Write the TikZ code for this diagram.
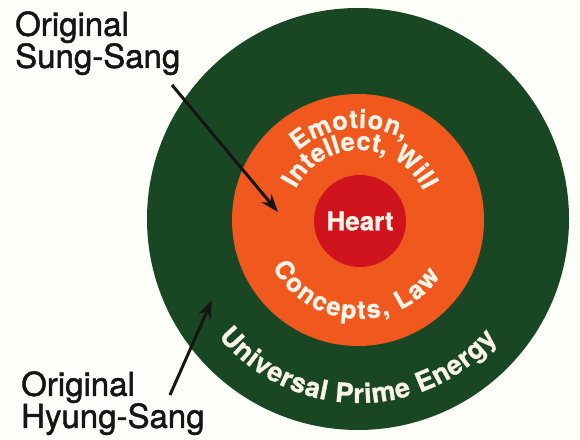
\documentclass[tikz,border=0pt]{standalone}
\usepackage{fontspec}
\setmainfont{TeX Gyre Heros}
\newfontfamily\labelfamily[FakeBold=1.4]{TeX Gyre Heros}
\newfontfamily\heavyfamily[FakeBold=1.0]{TeX Gyre Heros}
\usetikzlibrary{decorations.text,arrows.meta}
\definecolor{ringgreen}{HTML}{1A4723}
\definecolor{ringorange}{HTML}{F0581D}
\definecolor{corered}{HTML}{D0141E}
\definecolor{cream}{HTML}{FAF3E8}
\definecolor{paper}{HTML}{FDFDF9}
\definecolor{ink}{HTML}{151515}
\newcommand\ringfont{\color{cream}\heavyfamily\bfseries\fontsize{25.5}{25.5}\selectfont}
\newcommand\outerfont{\color{cream}\heavyfamily\bfseries\fontsize{27}{27}\selectfont}
\begin{document}
\begin{tikzpicture}[x=1pt,y=1pt,
  disc/.style={circle, inner sep=0pt, draw=none},
  sidelabel/.style={anchor=north west, inner sep=0pt, align=left, text=ink,
    font=\labelfamily\fontsize{33}{32}\selectfont},
  pointer/.style={draw=ink, line width=3pt, -{Stealth[length=18pt,width=13pt]}}]
\fill[paper] (0,0) rectangle (580,439);
\useasboundingbox (0,0) rectangle (580,439);
% rings
\node[disc, fill=ringgreen, minimum size=422pt] (outer) at (358,220) {};
\node[disc, fill=ringorange, minimum size=252pt] (middle) at (358,219) {};
\node[disc, fill=corered, minimum size=92pt, text=cream,
  font=\heavyfamily\bfseries\fontsize{26}{26}\selectfont] (core) at (360,218) {Heart};
\coordinate (cen) at (359,218);
% curved texts
\path[decorate, decoration={text along path, text align={fit to path},
  text={|\ringfont|Emotion,}}]
  (cen) ++(131:93) arc[start angle=131, end angle=61, radius=93];
\path[decorate, decoration={text along path, text align={fit to path},
  text={|\ringfont|Intellect, Will}}]
  (cen) ++(153:71) arc[start angle=153, end angle=25, radius=71];
\path[decorate, decoration={text along path, text align={fit to path},
  text={|\ringfont|Concepts, Law}}]
  (cen) ++(208:98) arc[start angle=208, end angle=326, radius=98];
\path[decorate, decoration={text along path, text align={fit to path},
  text={|\outerfont|Universal Prime Energy}}]
  (cen) ++(219.5:182) arc[start angle=219.5, end angle=319.5, radius=182];
% labels
\node[sidelabel] (sunglabel) at (15,428) {Original\\Sung-Sang};
\node[sidelabel] (hyunglabel) at (21,68) {Original\\Hyung-Sang};
% arrows
\coordinate (sstail) at (172,354);
\coordinate (sshead) at (278,227);
\coordinate (hstail) at (170,44);
\coordinate (hshead) at (212,139);
\draw[pointer] (sstail) -- (sshead);
\draw[pointer] (hstail) -- (hshead);
\end{tikzpicture}
\end{document}
